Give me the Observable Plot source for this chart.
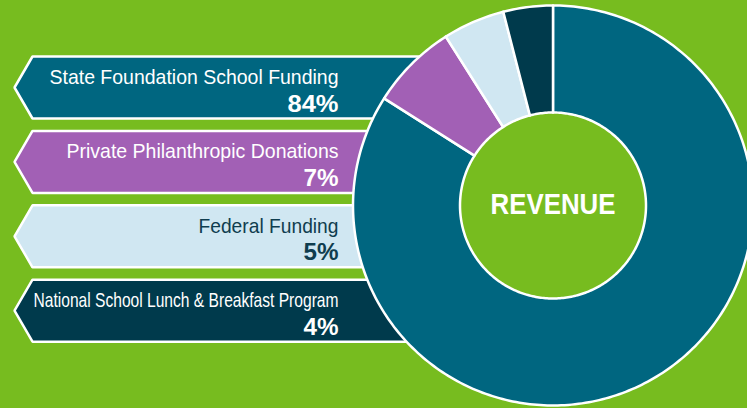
<!DOCTYPE html>
<html>
<head>
<meta charset="utf-8">
<script src="https://cdn.jsdelivr.net/npm/d3@7"></script>
<script src="https://cdn.jsdelivr.net/npm/@observablehq/plot@0.6"></script>
<style>
  html, body { margin: 0; padding: 0; background: #77bc1f; }
  #chart svg { display: block; }
</style>
</head>
<body>
<div id="chart"></div>
<script>
// ---- Data ----
const categories = [
  "State Foundation School Funding",
  "Private Philanthropic Donations",
  "Federal Funding",
  "National School Lunch & Breakfast Program"
];
const shares = [84, 7, 5, 4];
const percentLabels = ["84%", "7%", "5%", "4%"];
const centerLabel = "REVENUE";

// ---- Styles ----
const sliceColors = ["#006680", "#a260b5", "#d0e7f2", "#003a4c"];
const textColors = ["#ffffff", "#ffffff", "#0f3d4f", "#ffffff"];
const nameWidths = [289, 272, 140, 305];   // rendered widths of the label text (px)
const pctWidths = [51, 35, 35, 35];
const centerWidth = 125;
const bg = "#77bc1f";
const font = "'Liberation Sans', Arial, Helvetica, sans-serif";

// ---- Layout ----
const W = 747, H = 408;
const cx = 552.5, cy = 205, R = 200, r0 = 93;
const bannerTop0 = 56, bannerStep = 74.4, bannerH = 62;
const bannerTip = 14, bannerCorner = 32, bannerRight = 450, textRight = 338;

// banner polygons
const bannerPts = [];
categories.forEach((c, i) => {
  const t = bannerTop0 + i * bannerStep, b = t + bannerH;
  [[bannerTip, (t + b) / 2], [bannerCorner, t], [bannerRight, t], [bannerRight, b], [bannerCorner, b]]
    .forEach(([x, y]) => bannerPts.push({k: i, x, y, color: sliceColors[i]}));
});

const labelRows = categories.map((c, i) => ({
  name: c, pct: percentLabels[i], tColor: textColors[i],
  y1: bannerTop0 + i * bannerStep + 27.5,
  y2: bannerTop0 + i * bannerStep + 55
}));

// donut polygons from pie angles
const arcs = d3.pie().sort(null).startAngle(0).endAngle(2 * Math.PI)(shares);
const donutPts = [];
arcs.forEach((a, i) => {
  const n = Math.max(4, Math.ceil((a.endAngle - a.startAngle) / (Math.PI / 180)));
  for (let j = 0; j <= n; j++) {
    const ang = a.startAngle + (a.endAngle - a.startAngle) * j / n;
    donutPts.push({k: i, x: cx + R * Math.sin(ang), y: cy - R * Math.cos(ang), color: sliceColors[i]});
  }
  for (let j = n; j >= 0; j--) {
    const ang = a.startAngle + (a.endAngle - a.startAngle) * j / n;
    donutPts.push({k: i, x: cx + r0 * Math.sin(ang), y: cy - r0 * Math.cos(ang), color: sliceColors[i]});
  }
});

const chart = Plot.plot({
  width: W, height: H, margin: 0,
  x: {domain: [0, W], range: [0, W], axis: null},
  y: {domain: [0, H], range: [0, H], axis: null},
  color: {type: "identity"},
  style: {background: bg, overflow: "visible"},
  marks: [
    Plot.line(bannerPts, {x: "x", y: "y", z: "k", fill: "color", stroke: "white", strokeWidth: 2.5, curve: "linear-closed", strokeLinejoin: "miter"}),
    Plot.text(labelRows, {x: textRight, y: "y1", text: "name", fill: "tColor", textAnchor: "end", lineAnchor: "bottom", fontSize: 21, fontFamily: font}),
    Plot.text(labelRows, {x: textRight, y: "y2", text: "pct", fill: "tColor", textAnchor: "end", lineAnchor: "bottom", fontSize: 24.5, fontWeight: "bold", fontFamily: font}),
    Plot.line(donutPts, {x: "x", y: "y", z: "k", fill: "color", stroke: "white", strokeWidth: 2.5, curve: "linear-closed", strokeLinejoin: "round"}),
    Plot.text([centerLabel], {x: cx, y: cy + 8.5, text: d => d, fill: "white", textAnchor: "middle", lineAnchor: "bottom", fontSize: 30, fontWeight: "bold", fontFamily: font})
  ]
});
document.getElementById("chart").appendChild(chart);

// fit condensed text widths (the reference uses a condensed face)
const widthByText = new Map();
categories.forEach((c, i) => widthByText.set(c, nameWidths[i]));
percentLabels.forEach((p, i) => widthByText.set(p, pctWidths[i]));
widthByText.set(centerLabel, centerWidth);
chart.querySelectorAll("text").forEach(t => {
  const w = widthByText.get(t.textContent);
  if (w) {
    t.setAttribute("textLength", w);
    t.setAttribute("lengthAdjust", "spacingAndGlyphs");
  }
});
</script>
</body>
</html>
